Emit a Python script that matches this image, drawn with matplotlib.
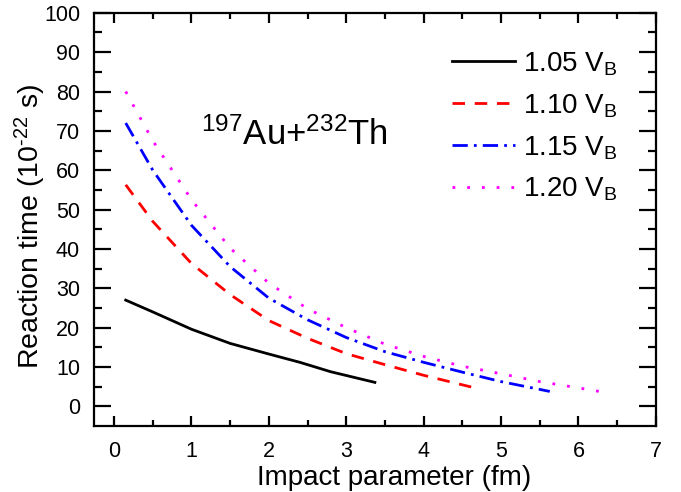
import numpy as np
import matplotlib
matplotlib.use('Agg')
import matplotlib.pyplot as plt

plt.rcParams['font.family'] = ['Liberation Sans', 'DejaVu Sans']
plt.rcParams['mathtext.fontset'] = 'custom'
plt.rcParams['mathtext.rm'] = 'Liberation Sans'
plt.rcParams['mathtext.it'] = 'Liberation Sans:italic'
plt.rcParams['mathtext.bf'] = 'Liberation Sans:bold'

# impact parameter (fm) / reaction time (1e-22 s) per incident energy
b_105 = [0.15, 0.5, 1.0, 1.5, 2.0, 2.4, 2.8, 3.37]
t_105 = [27.0, 24.0, 19.6, 16.0, 13.3, 11.2, 8.8, 6.1]

b_110 = [0.15, 0.5, 1.0, 1.5, 2.0, 2.5, 3.0, 3.5, 4.0, 4.62]
t_110 = [56.3, 47.0, 36.3, 28.4, 21.8, 17.3, 13.4, 10.6, 7.9, 4.9]

b_115 = [0.15, 0.5, 1.0, 1.5, 2.0, 2.5, 3.0, 3.5, 4.0, 4.5, 5.0, 5.63]
t_115 = [72.0, 60.0, 46.0, 35.5, 27.5, 22.0, 17.5, 13.9, 11.2, 8.7, 6.3, 3.8]

b_120 = [0.15, 0.5, 1.0, 1.5, 2.0, 2.5, 3.0, 3.5, 4.0, 4.5, 5.0, 5.5, 6.0, 6.3]
t_120 = [80.0, 67.5, 52.5, 40.2, 31.3, 24.8, 20.0, 15.8, 12.7, 10.2, 8.3, 6.3, 4.7, 3.7]

labels = ['1.05 V$_\\mathregular{B}$', '1.10 V$_\\mathregular{B}$',
          '1.15 V$_\\mathregular{B}$', '1.20 V$_\\mathregular{B}$']

fig = plt.figure(figsize=(6.81, 4.92), dpi=100)
ax = fig.add_axes([0.138, 0.134, 0.825, 0.84])

lw = 2.0
ax.plot(b_105, t_105, color='black', lw=lw, ls='-', label=labels[0])
ax.plot(b_110, t_110, color='red', lw=lw, ls=(0, (4.5, 3.5)), label=labels[1])
ax.plot(b_115, t_115, color='blue', lw=lw, ls=(0, (5.5, 2.2, 1, 2.2)), label=labels[2])
ax.plot(b_120, t_120, color='magenta', lw=lw, ls=(0, (1, 4.3)), label=labels[3])

ax.set_xlim(-0.26, 7)
ax.set_ylim(-5, 100)
ax.set_xticks(np.arange(0, 8, 1))
ax.set_xticks(np.arange(0.5, 7, 1), minor=True)
ax.set_yticks(np.arange(0, 101, 10))
ax.set_yticks(np.arange(5, 100, 10), minor=True)

for s in ax.spines.values():
    s.set_linewidth(1.6)
ax.tick_params(axis='both', which='both', direction='in', top=True, right=True,
               width=1.6, labelsize=15.5, colors='black')
ax.tick_params(axis='x', which='major', length=7, pad=11)
ax.tick_params(axis='x', which='minor', length=4)
ax.tick_params(axis='y', which='major', length=12, pad=10)
ax.tick_params(axis='y', which='minor', length=6)

ax.set_xlabel('Impact parameter (fm)', fontsize=20)
ax.xaxis.set_label_coords(0.534, -0.094)
ax.set_ylabel('Reaction time (10$^{\\mathregular{\\text{-}22}}$ s)', fontsize=20.5)
ax.yaxis.set_label_coords(-0.082, 0.484)

ax.text(2.33, 69, '$^{\\mathregular{197}}$Au+$^{\\mathregular{232}}$Th', fontsize=25,
        ha='center', va='center')

ax.legend(loc='upper right', bbox_to_anchor=(0.962, 0.95), frameon=False, fontsize=20,
          handlelength=2.25, handletextpad=0.3, labelspacing=0.52, borderaxespad=0.2)

fig.savefig('out.png', dpi=100)
